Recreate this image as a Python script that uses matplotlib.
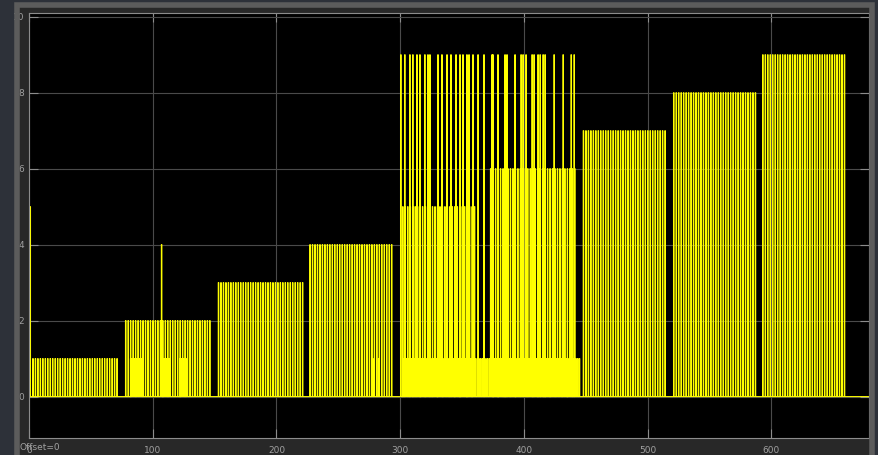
import matplotlib
matplotlib.use("Agg")
import matplotlib.pyplot as plt
from matplotlib.patches import Rectangle

# regular pulse trains: first pulse, last pulse, height, spacing
train_start = [3, 78, 153, 227, 302, 373, 302, 82, 108, 122, 448, 521, 593]
train_end = [72, 146, 221, 294, 361, 442, 446, 93, 114, 128, 514, 587, 660]
train_height = [1, 2, 3, 4, 5, 6, 1, 1, 1, 1, 7, 8, 9]
train_period = [2, 2, 2, 2, 2, 2, 1.4, 1.4, 1.4, 1.4, 2, 2, 2]

# single pulses outside the regular trains
spike_time = [0.8, 107, 277.7, 282.5,
              300.4, 303.6, 307.7, 310.1, 313.4, 315.8, 319.8, 322.3, 323.9,
              330.4, 333.6, 337.7, 340.9, 345.0, 348.2, 350.6, 353.8, 355.5,
              358.7, 362.8, 367.6, 374.1, 374.9, 378.9, 384.6, 386.2, 392.7,
              397.6, 399.2, 401.6, 406.5, 408.1, 411.3, 413.0, 415.4, 417.0,
              424.3, 431.6, 438.1, 440.5]
spike_height = [5, 4, 1, 1] + [9] * 40

t_end = 679
pulse_width = 0.4

x_ticks = [0, 100, 200, 300, 400, 500, 600]
y_ticks = [0, 2, 4, 6, 8, 10]

# collect all pulses
pulses = []
for s, e, h, p in zip(train_start, train_end, train_height, train_period):
    t = s
    while t <= e:
        pulses.append((t, h))
        t += p
pulses += list(zip(spike_time, spike_height))
pulses.sort()

xs, ys = [0], [0]
for t, h in pulses:
    xs += [t, t, t + pulse_width, t + pulse_width]
    ys += [0, h, h, 0]
xs.append(t_end)
ys.append(0)

W, H = 879, 455
fig = plt.figure(figsize=(W / 100, H / 100), dpi=100, facecolor="#2d3139")

# scope panel and frame
fig.patches.append(Rectangle((17.5 / W, -3 / H), 855 / W, 455 / H,
                             transform=fig.transFigure, facecolor="#282828",
                             edgecolor="none", zorder=-1))
fig.patches.append(Rectangle((17.5 / W, -3 / H), 855 / W, 453 / H,
                             transform=fig.transFigure, facecolor="none",
                             edgecolor="#5c5c5c", linewidth=4.0, zorder=5))

ax = fig.add_axes([29 / W, (H - 438) / H, 840 / W, 425 / H])
ax.set_facecolor("black")
ax.plot(xs, ys, color="#ffff00", linewidth=0.8)

ax.set_xlim(0, t_end)
ax.set_ylim(-1.09, 10.1)
ax.set_xticks(x_ticks)
ax.set_yticks(y_ticks)
ax.grid(True, color="#4a4a4a", linewidth=0.8)
ax.set_axisbelow(True)
ax.tick_params(direction="in", length=6.5, color="#8c8c8c", labelcolor="#a0a0a0",
               labelsize=6.5, top=True, right=True)
ax.tick_params(axis="y", pad=3.5)
ax.tick_params(axis="x", pad=6)
for sp in ax.spines.values():
    sp.set_color("#8c8c8c")
    sp.set_linewidth(0.8)

fig.text(19 / W, (H - 447) / H, "Offset=0", color="#a0a0a0", fontsize=6.5,
         va="center", ha="left")

fig.savefig("out.png", dpi=100, facecolor=fig.get_facecolor())
